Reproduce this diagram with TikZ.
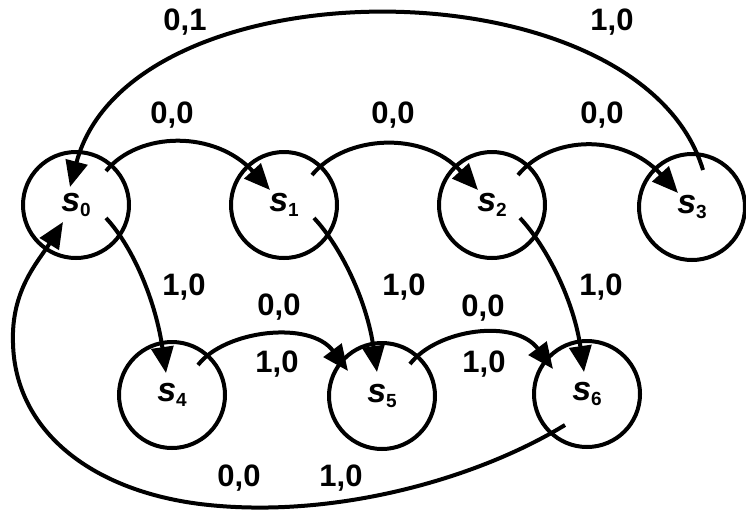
\documentclass[tikz,border=0pt]{standalone}
\usepackage{fontspec}
\setmainfont{Liberation Sans}
\usetikzlibrary{arrows.meta,calc}
\newcommand\slab[1]{{\fontsize{34}{34}\selectfont\bfseries\itshape s}\raisebox{-5pt}{\fontsize{19}{19}\selectfont\bfseries #1}}
\begin{document}
\begin{tikzpicture}[x=1pt,y=-1pt,
  state/.style={circle,draw,line width=4pt,minimum size=106pt,inner sep=0pt},
  edge/.style={line width=4pt,-{Triangle[length=26pt,width=22pt]}},
  lab/.style={font=\fontsize{31}{31}\selectfont\bfseries,inner sep=0pt}]
\useasboundingbox (0,0) rectangle (746,509);
% states
\node[state] (s0) at (76,205) {\slab{0}};
\node[state] (s1) at (284,205) {\slab{1}};
\node[state] (s2) at (492,205) {\slab{2}};
\node[state] (s3) at (692,207) {\slab{3}};
\node[state] (s4) at (172,395) {\slab{4}};
\node[state] (s5) at (382,396) {\slab{5}};
\node[state] (s6) at (587,394) {\slab{6}};
% connector ends inside the circles
\coordinate (s0r) at ($(s0)+(30,-34)$);
\coordinate (s1r) at ($(s1)+(28,-30)$);
\coordinate (s2r) at ($(s2)+(26,-30)$);
\coordinate (s1l) at ($(s1)+(-14,-15)$);
\coordinate (s2l) at ($(s2)+(-14,-15)$);
\coordinate (s3l) at ($(s3)+(-14,-14)$);
\coordinate (s0d) at ($(s0)+(30,13)$);
\coordinate (s1d) at ($(s1)+(30,13)$);
\coordinate (s2d) at ($(s2)+(28,13)$);
\coordinate (s4u) at ($(s4)+(-6,-22)$);
\coordinate (s5u) at ($(s5)+(-5,-24)$);
\coordinate (s6u) at ($(s6)+(-3,-22)$);
\coordinate (s4r) at ($(s4)+(26,-30)$);
\coordinate (s5r) at ($(s5)+(28,-32)$);
\coordinate (s5l) at ($(s5)+(-34,-25)$);
\coordinate (s6l) at ($(s6)+(-34,-25)$);
\coordinate (s3t) at ($(s3)+(11,-37)$);
\coordinate (s0t) at ($(s0)+(-6,-18)$);
\coordinate (s6b) at ($(s6)+(-22,31)$);
\coordinate (s0b) at ($(s0)+(-13,17)$);
% top row arcs
\draw[edge] (s0r) .. controls +(33,-40) and +(-55,-60) .. (s1l);
\draw[edge] (s1r) .. controls +(33,-40) and +(-55,-60) .. (s2l);
\draw[edge] (s2r) .. controls +(33,-40) and +(-55,-60) .. (s3l);
% downward edges
\draw[edge] (s0d) .. controls +(28,30) and +(-10,-70) .. (s4u);
\draw[edge] (s1d) .. controls +(28,30) and +(-10,-70) .. (s5u);
\draw[edge] (s2d) .. controls +(28,30) and +(-10,-70) .. (s6u);
% bottom row arcs
\draw[edge] (s4r) .. controls +(27,-35) and +(-38,-51) .. (s5l);
\draw[edge] (s5r) .. controls +(27,-35) and +(-38,-51) .. (s6l);
% big top arc
\draw[edge] (s3t) .. controls +(-63,-210) and +(60,-227) .. (s0t);
% big bottom arc
\draw[edge] (s6b) .. controls (475,480) and (330,520) .. (200,504)
  .. controls (90,490) and (15,430) .. (13,343)
  .. controls (11,290) and (38,262) .. (s0b);
% labels
\node[lab] (t1) at (185,22) {0,1};
\node[lab] (t2) at (612,22) {1,0};
\node[lab] (a1) at (172,115) {0,0};
\node[lab] (a2) at (393,115) {0,0};
\node[lab] (a3) at (602,115) {0,0};
\node[lab] (d1) at (184,287) {1,0};
\node[lab] (d2) at (404,287) {1,0};
\node[lab] (d3) at (601,287) {1,0};
\node[lab] (b1) at (279,307) {0,0};
\node[lab] (b2) at (277,364) {1,0};
\node[lab] (b3) at (483,308) {0,0};
\node[lab] (b4) at (484,364) {1,0};
\node[lab] (c1) at (239,478) {0,0};
\node[lab] (c2) at (341,478) {1,0};
\end{tikzpicture}
\end{document}
